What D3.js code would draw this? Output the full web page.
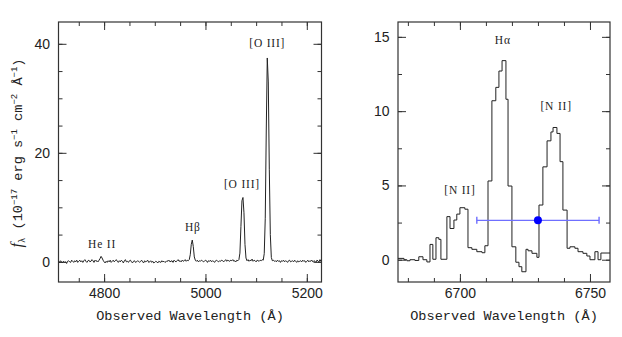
<!DOCTYPE html>
<html>
<head>
<meta charset="utf-8">
<script src="https://cdn.jsdelivr.net/npm/d3@7"></script>
<style>
  html, body { margin: 0; padding: 0; background: #fff; }
  svg { display: block; }
</style>
</head>
<body>
<svg id="chart" width="622" height="337"></svg>
<script>
// ---------------- DATA ----------------
// Left panel: optical spectrum sampled on a regular 2 Å grid
const leftStart = 4710;
const leftStep = 2;
const leftFlux = [
  0.1, -0.1, 0.2, 0.0, -0.2, 0.1, -0.1, 0.0, -0.3, 0.1,
  0.2, 0.0, -0.1, 0.3, 0.1, -0.1, 0.2, 0.0, 0.3, -0.1,
  0.1, 0.3, 0.0, 0.2, -0.1, 0.2, 0.4, 0.1, -0.1, 0.2,
  0.3, 0.0, 0.1, 0.4, 0.2, -0.1, 0.3, 0.1, 0.2, 0.0,
  0.3, 0.6, 1.0, 0.7, 0.3, 0.0, -0.2, 0.1, -0.1, 0.2,
  0.0, 0.3, -0.1, 0.1, 0.3, 0.0, 0.2, 0.4, 0.1, -0.1,
  0.2, 0.0, 0.3, 0.1, -0.2, 0.2, 0.4, 0.0, 0.1, -0.1,
  0.2, 0.3, 0.0, -0.2, 0.1, 0.2, -0.1, 0.0, 0.2, 0.1,
  -0.1, 0.1, 0.3, 0.0, -0.2, 0.2, 0.0, 0.1, 0.3, -0.1,
  0.0, 0.2, -0.1, 0.1, -0.2, -0.1, 0.1, 0.0, -0.2, 0.1,
  0.0, -0.1, 0.2, 0.0, 0.1, -0.1, 0.0, 0.2, 0.1, 0.3,
  0.0, 0.1, 0.2, -0.1, 0.3, 0.1, 0.0, 0.2, 0.4, 0.1,
  0.2, 0.0, 0.3, 0.1, 0.2, 0.4, 0.1, 0.3, 0.2, 0.4,
  1.3, 3.2, 4.0, 2.8, 0.9, 0.3, 0.1, 0.3, 0.0, 0.2,
  0.1, 0.3, 0.2, 0.0, 0.1, 0.3, 0.2, -0.1, 0.2, 0.1,
  0.3, 0.0, 0.2, 0.1, -0.1, 0.2, 0.3, 0.1, 0.0, 0.2,
  0.1, 0.3, 0.2, 0.0, 0.2, 0.4, 0.1, 0.3, 0.2, 0.1,
  0.3, 0.2, 0.4, 0.1, 0.2, 0.0, 0.3, 0.2, 0.4, 1.6,
  6.5, 11.2, 11.8, 9.0, 3.2, 0.7, 0.2, 0.4, 0.1, 0.3,
  0.2, 0.5, 0.1, 0.3, 0.2, 0.0, 0.3, 0.2, 0.1, 0.3,
  0.2, 0.4, 0.3, 1.5, 8.0, 24.0, 37.4, 33.0, 17.0, 5.0,
  0.8, 0.2, 0.3, 0.1, 0.2, 0.0, 0.3, 0.1, 0.2, -0.1,
  0.2, 0.1, 0.3, 0.0, 0.2, 0.1, -0.1, 0.2, 0.3, 0.0,
  0.1, 0.2, 0.0, 0.3, 0.1, -0.1, 0.2, 0.0, 0.1, 0.2,
  0.0, 0.3, 0.1, 0.2, -0.1, 0.1, 0.3, 0.0, 0.2, 0.1,
  0.3, 0.0, 0.2, 0.1, -0.1, 0.3, 0.2, 0.0, 0.4, 0.1,
  0.3
];
const leftXTicks = [4800, 5000, 5200];
const leftYTicks = [0, 20, 40];
const leftLabels = [
  { text: "He II",  x: 4796, y: 2.6 },
  { text: "Hβ",     x: 4975, y: 5.6 },
  { text: "[O III]", x: 5072, y: 13.6 },
  { text: "[O III]", x: 5122, y: 39.5 }
];

// Right panel: binned spectrum (bin edges in Å, flux per bin)
const rightEdges = [
  6676.2, 6678.5, 6679.6, 6680.8, 6682.7, 6684.2, 6685.8, 6687.3, 6688.5, 6689.6,
  6690.8, 6691.9, 6692.7, 6695.0, 6696.2, 6697.7, 6698.8, 6700.0, 6701.9, 6703.1,
  6704.6, 6706.5, 6708.5, 6709.6, 6710.8, 6712.3, 6713.8, 6715.0, 6716.2, 6717.7,
  6718.5, 6720.0, 6721.5, 6722.7, 6723.8, 6725.4, 6726.2, 6727.7, 6729.6, 6730.4,
  6731.9, 6733.5, 6735.0, 6735.8, 6737.3, 6738.5, 6739.6, 6741.2, 6742.3, 6744.2,
  6745.4, 6747.3, 6748.8, 6750.0, 6751.9, 6753.1, 6754.2, 6757.7
];
const rightFlux = [
  0.09, 0.0, -0.07, 0.0, -0.05, 0.2, 0.0, -0.15, 1.03, 0.03,
  1.48, 1.37, 0.03, 2.9, 2.1, 2.67, 3.07, 3.5, 3.4, 0.81,
  0.7, 0.54, 0.47, 0.94, 5.3, 10.7, 11.6, 12.7, 13.4, 10.8,
  4.96, 0.87, -0.17, -0.47, -0.81, 0.7, 0.6, 0.43, 0.16, 3.68,
  6.25, 8.0, 8.6, 8.9, 8.5, 6.6, 3.34, 0.77, 0.87, 0.77,
  0.54, 0.43, 0.25, 0.0, 0.54, 0.0, 0.45
];
const rightXTicks = [6700, 6750];
const rightYTicks = [0, 5, 10, 15];
const rightLabels = [
  { text: "Hα",     x: 6716.5, y: 14.5 },
  { text: "[N II]", x: 6737.0, y: 10.1 },
  { text: "[N II]", x: 6700.0, y: 4.45 }
];
// Blue point with horizontal error bar
const errPoint = { x: 6730.0, y: 2.65, xlo: 6706.5, xhi: 6753.5 };

// ---------------- DRAW ----------------
const svg = d3.select("#chart");
const frameColor = "#333";
const lineColor = "#222";
const tickFont = "'Liberation Sans', 'DejaVu Sans', sans-serif";
const monoFont = "'Liberation Mono', 'DejaVu Sans Mono', monospace";
const serifFont = "'Liberation Serif', 'DejaVu Serif', serif";

function panel(opts) {
  const { x, y, xMinorStep, yMinorStep, xTicks, yTicks } = opts;
  const g = svg.append("g");
  const [x0, x1] = x.range();
  const [y0, y1] = y.range(); // y0 bottom, y1 top

  const xd = x.domain(), yd = y.domain();
  const xMinor = d3.range(Math.ceil(xd[0] / xMinorStep) * xMinorStep, xd[1], xMinorStep);
  const yMinor = d3.range(Math.ceil(yd[0] / yMinorStep) * yMinorStep, yd[1], yMinorStep);

  const styleAxis = sel => {
    sel.select(".domain").remove();
    sel.selectAll("line").attr("stroke", frameColor).attr("stroke-width", 1);
  };
  // minor ticks (all four sides, inward)
  g.append("g").attr("transform", `translate(0,${y0})`)
    .call(d3.axisBottom(x).tickValues(xMinor).tickSize(-4).tickFormat("")).call(styleAxis);
  g.append("g").attr("transform", `translate(0,${y1})`)
    .call(d3.axisTop(x).tickValues(xMinor).tickSize(-4).tickFormat("")).call(styleAxis);
  g.append("g").attr("transform", `translate(${x0},0)`)
    .call(d3.axisLeft(y).tickValues(yMinor).tickSize(-4).tickFormat("")).call(styleAxis);
  g.append("g").attr("transform", `translate(${x1},0)`)
    .call(d3.axisRight(y).tickValues(yMinor).tickSize(-4).tickFormat("")).call(styleAxis);
  // major ticks
  const bx = g.append("g").attr("transform", `translate(0,${y0})`)
    .call(d3.axisBottom(x).tickValues(xTicks).tickSize(-8).tickPadding(6).tickFormat(d3.format("d")))
    .call(styleAxis);
  g.append("g").attr("transform", `translate(0,${y1})`)
    .call(d3.axisTop(x).tickValues(xTicks).tickSize(-8).tickFormat("")).call(styleAxis);
  const ly = g.append("g").attr("transform", `translate(${x0},0)`)
    .call(d3.axisLeft(y).tickValues(yTicks).tickSize(-8).tickPadding(8.5).tickFormat(d3.format("d")))
    .call(styleAxis);
  g.append("g").attr("transform", `translate(${x1},0)`)
    .call(d3.axisRight(y).tickValues(yTicks).tickSize(-8).tickFormat("")).call(styleAxis);

  [bx, ly].forEach(a => a.selectAll("text")
    .attr("font-family", tickFont).attr("font-size", 14).attr("fill", "#222"));

  // frame
  g.append("rect")
    .attr("x", x0).attr("y", y1)
    .attr("width", x1 - x0).attr("height", y0 - y1)
    .attr("fill", "none").attr("stroke", frameColor).attr("stroke-width", 1.2);

  // x title
  g.append("text")
    .attr("x", (x0 + x1) / 2).attr("y", 320)
    .attr("text-anchor", "middle")
    .attr("font-family", monoFont).attr("font-size", 13.6).attr("fill", "#222")
    .text("Observed Wavelength (Å)");
  return g;
}

// ----- Left panel -----
const xL = d3.scaleLinear().domain([4710, 5229]).range([58.5, 321.5]);
const yL = d3.scaleLinear().domain([-3.7, 44]).range([282, 22]);
const gL = panel({ x: xL, y: yL, xMinorStep: 50, yMinorStep: 5, xTicks: leftXTicks, yTicks: leftYTicks });

svg.append("clipPath").attr("id", "clipL").append("rect")
  .attr("x", 58.5).attr("y", 22).attr("width", 263).attr("height", 260);

const leftData = leftFlux.map((f, i) => [leftStart + i * leftStep, f]);
svg.append("path")
  .datum(leftData)
  .attr("clip-path", "url(#clipL)")
  .attr("fill", "none").attr("stroke", lineColor).attr("stroke-width", 1)
  .attr("stroke-linejoin", "round")
  .attr("d", d3.line().x(d => xL(d[0])).y(d => yL(d[1])));

svg.selectAll(".lblL").data(leftLabels).enter().append("text")
  .attr("class", "lblL")
  .attr("x", d => xL(d.x)).attr("y", d => yL(d.y))
  .attr("text-anchor", "middle")
  .attr("font-family", serifFont).attr("font-size", 11.5).attr("fill", "#222")
  .attr("letter-spacing", 0.8)
  .text(d => d.text);

// y title (left)
const yt = svg.append("text")
  .attr("transform", "translate(22,153) rotate(-90)")
  .attr("text-anchor", "middle")
  .attr("font-family", monoFont).attr("font-size", 13.6).attr("fill", "#222");
yt.append("tspan").attr("font-family", serifFont).attr("font-style", "italic").attr("font-size", 16).text("f");
yt.append("tspan").attr("font-size", 9).attr("dy", 3).text("λ");
yt.append("tspan").attr("dy", -3).text(" (10");
yt.append("tspan").attr("font-size", 9).attr("dy", -5).text("−17");
yt.append("tspan").attr("dy", 5).text(" erg s");
yt.append("tspan").attr("font-size", 9).attr("dy", -5).text("−1");
yt.append("tspan").attr("dy", 5).text(" cm");
yt.append("tspan").attr("font-size", 9).attr("dy", -5).text("−2");
yt.append("tspan").attr("dy", 5).text(" Å");
yt.append("tspan").attr("font-size", 9).attr("dy", -5).text("−1");
yt.append("tspan").attr("dy", 5).text(")");

// ----- Right panel -----
const xR = d3.scaleLinear().domain([6676.2, 6757.7]).range([398, 610]);
const yR = d3.scaleLinear().domain([-1.5, 16]).range([282, 22]);
const gR = panel({ x: xR, y: yR, xMinorStep: 10, yMinorStep: 2.5, xTicks: rightXTicks, yTicks: rightYTicks });

const rightData = rightFlux.map((f, i) => [rightEdges[i], f]);
rightData.push([rightEdges[rightEdges.length - 1], rightFlux[rightFlux.length - 1]]);
svg.append("path")
  .datum(rightData)
  .attr("fill", "none").attr("stroke", lineColor).attr("stroke-width", 1)
  .attr("d", d3.line().curve(d3.curveStepAfter).x(d => xR(d[0])).y(d => yR(d[1])));

// error bar
const eb = svg.append("g");
eb.append("line")
  .attr("x1", xR(errPoint.xlo)).attr("x2", xR(errPoint.xhi))
  .attr("y1", yR(errPoint.y)).attr("y2", yR(errPoint.y))
  .attr("stroke", "#6f6fff").attr("stroke-width", 1.4);
[errPoint.xlo, errPoint.xhi].forEach(v => eb.append("line")
  .attr("x1", xR(v)).attr("x2", xR(v))
  .attr("y1", yR(errPoint.y) - 3.5).attr("y2", yR(errPoint.y) + 3.5)
  .attr("stroke", "#6f6fff").attr("stroke-width", 1.4));
eb.append("circle")
  .attr("cx", xR(errPoint.x)).attr("cy", yR(errPoint.y)).attr("r", 4)
  .attr("fill", "#0000ff");

svg.selectAll(".lblR").data(rightLabels).enter().append("text")
  .attr("class", "lblR")
  .attr("x", d => xR(d.x)).attr("y", d => yR(d.y))
  .attr("text-anchor", "middle")
  .attr("font-family", serifFont).attr("font-size", 11.5).attr("fill", "#222")
  .attr("letter-spacing", 0.8)
  .text(d => d.text);
</script>
</body>
</html>
